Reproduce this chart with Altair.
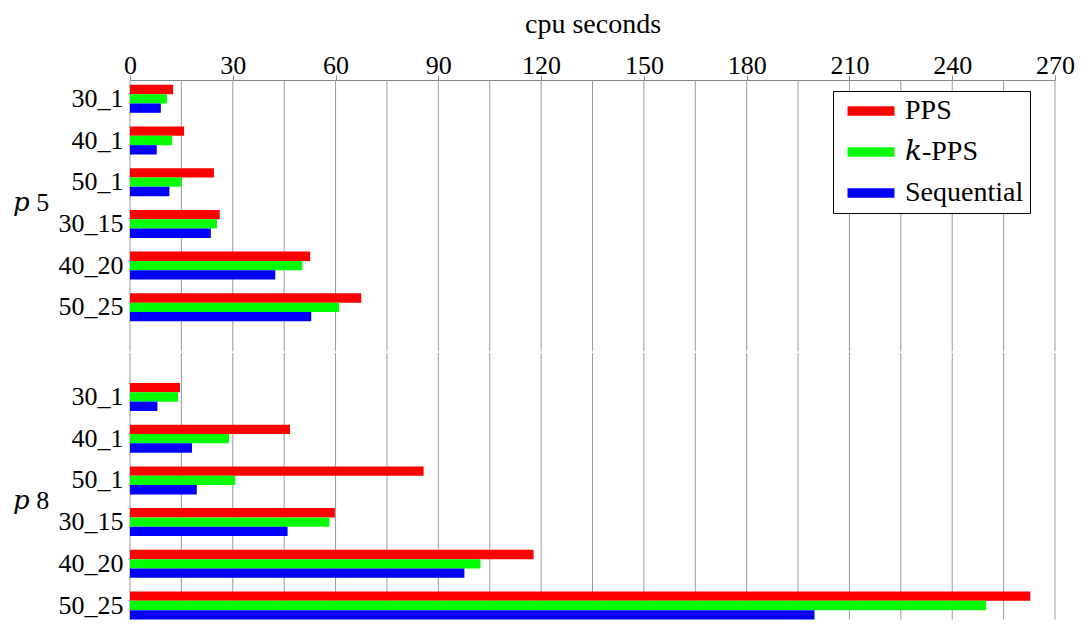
import altair as alt
import pandas as pd

FONT = "Liberation Serif"
FONT_MATH = "Liberation Serif, DejaVu Serif"

groups = ["p5", "p8"]
group_titles = ["𝑝 5", "𝑝 8"]
instances = ["30_1", "40_1", "50_1", "30_15", "40_20", "50_25"]
series = ["PPS", "k-PPS", "Sequential"]
colors = ["#ff0000", "#00ff00", "#0000ff"]

pps_p5 = [12.6, 15.8, 24.5, 26.2, 52.6, 67.5]
pps_p8 = [14.6, 46.7, 85.7, 59.8, 117.8, 262.8]
kpps_p5 = [10.8, 12.3, 15.1, 25.4, 50.3, 61.0]
kpps_p8 = [14.0, 28.9, 30.7, 58.2, 102.3, 249.9]
seq_p5 = [9.0, 7.8, 11.5, 23.6, 42.4, 52.9]
seq_p8 = [8.0, 18.1, 19.5, 46.0, 97.6, 199.8]

x_ticks = [0, 30, 60, 90, 120, 150, 180, 210, 240, 270]
grid_values = [0, 15, 30, 45, 60, 75, 90, 105, 120, 135, 150, 165, 180, 195,
               210, 225, 240, 255, 270]

values = {
    ("p5", "PPS"): pps_p5, ("p8", "PPS"): pps_p8,
    ("p5", "k-PPS"): kpps_p5, ("p8", "k-PPS"): kpps_p8,
    ("p5", "Sequential"): seq_p5, ("p8", "Sequential"): seq_p8,
}
rows = []
for (g, s), vals in values.items():
    for inst, v in zip(instances, vals):
        rows.append({"group": g, "instance": inst, "series": s, "value": v})
df = pd.DataFrame(rows)
grid_df = pd.DataFrame({"gx": grid_values})

xscale = alt.Scale(domain=[0, 270], nice=False, zero=True)
PLOT_W = 925


def make_x_axis():
    return alt.Axis(orient="top", values=x_ticks, title="cpu seconds",
                    labelFont=FONT, labelFontSize=26, labelColor="black",
                    tickSize=5, tickColor="#888888", domainColor="#888888",
                    labelPadding=-3, labelFlush=False, grid=False,
                    titleFont=FONT, titleFontSize=28, titleFontWeight="normal",
                    titleColor="black", titlePadding=14)


def panel(g, title, title_y, height, p_inner, p_outer, align, top_axis, show_legend):
    d = df[df.group == g]
    legend = None
    if show_legend:
        legend = alt.Legend(orient="none", legendX=703, legendY=11, title=None,
                            direction="vertical",
                            symbolType="M-2.5,-0.5L2.5,-0.5L2.5,0.5L-2.5,0.5Z",
                            symbolSize=353, symbolStrokeWidth=0, symbolOpacity=1,
                            labelFont=FONT_MATH, labelFontSize=28, labelColor="black",
                            labelOffset=20, symbolOffset=18, padding=6,
                            rowPadding=13, strokeColor="black", fillColor="white",
                            labelExpr="datum.label == 'k-PPS' ? '𝑘-PPS' : datum.label")
    bars = alt.Chart(d).mark_bar().encode(
        x=alt.X("value:Q", scale=xscale,
                axis=make_x_axis() if top_axis else None),
        y=alt.Y("instance:N", sort=instances,
                scale=alt.Scale(paddingInner=p_inner, paddingOuter=p_outer, align=align),
                axis=alt.Axis(title=title, labelFont=FONT, labelFontSize=26,
                              labelColor="black", ticks=False, domain=False,
                              labelPadding=7, titleFont=FONT_MATH, titleFontSize=26,
                              titleFontWeight="normal", titleColor="black",
                              titleAngle=0, titleAlign="left", titleBaseline="middle",
                              titleX=-117.5, titleY=title_y)),
        yOffset=alt.YOffset("series:N", sort=series,
                            scale=alt.Scale(paddingInner=0, paddingOuter=0)),
        color=alt.Color("series:N", scale=alt.Scale(domain=series, range=colors),
                        legend=legend),
    )
    grid = alt.Chart(grid_df).mark_rule(color="#999999", strokeWidth=1).encode(
        x=alt.X("gx:Q", scale=xscale,
                axis=make_x_axis() if top_axis else None)
    )
    return alt.layer(grid, bars).properties(width=PLOT_W, height=height)


top = panel("p5", group_titles[0], 122.5, 271.3, 0.32854, 0.41727, 0.138, True, True)
bottom = panel("p8", group_titles[1], 147.5, 266.5, 0.32854, 0.3597, 1.0, False, False)

chart = alt.vconcat(top, bottom, spacing=0).resolve_scale(
    y="independent"
).resolve_legend(color="independent").properties(
    padding={"left": 4, "top": 2, "right": 0, "bottom": 0}
).configure(font=FONT).configure_axis(
    labelFont=FONT, titleFont=FONT
).configure_view(stroke=None)

chart.save("out.html", embed_options={"renderer": "svg", "actions": False})
